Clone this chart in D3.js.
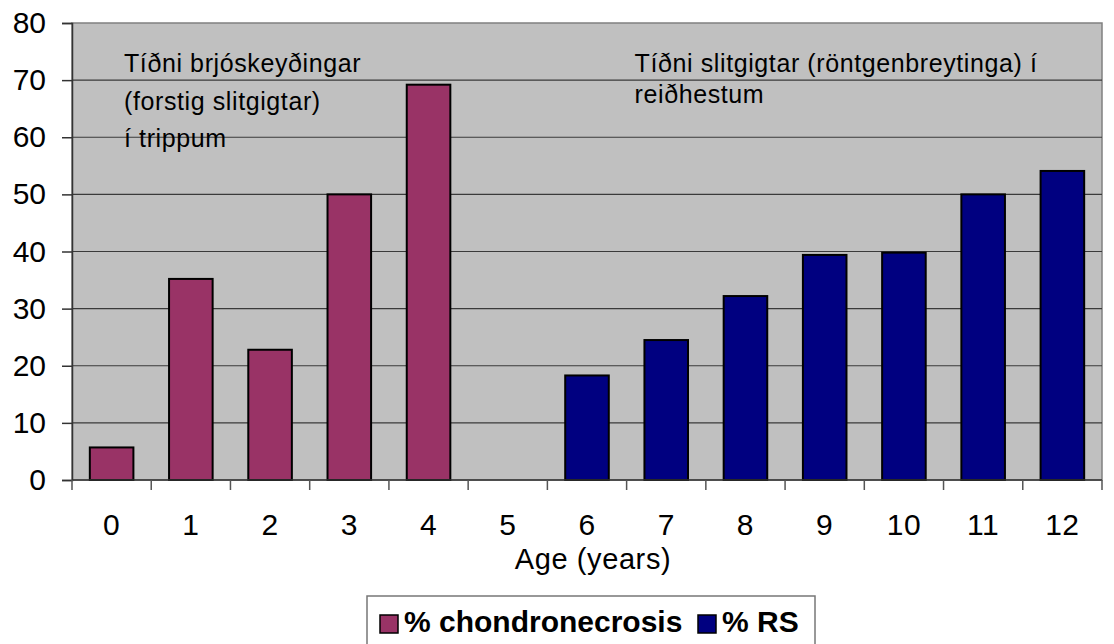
<!DOCTYPE html>
<html>
<head>
<meta charset="utf-8">
<script src="https://cdn.jsdelivr.net/npm/d3@7"></script>
<style>
  body { margin: 0; background: #fff; }
  text { font-family: Arial, "Liberation Sans", sans-serif; }
</style>
</head>
<body>
<div id="chart"></div>
<script>
// data
const ages = ['0', '1', '2', '3', '4', '5', '6', '7', '8', '9', '10', '11', '12'];
const chondronecrosis = [5.7, 35.2, 22.8, 50, 69.2, null, null, null, null, null, null, null, null];
const rs = [null, null, null, null, null, null, 18.3, 24.5, 32.2, 39.4, 39.8, 50, 54.1];
const yTicks = [0, 10, 20, 30, 40, 50, 60, 70, 80];
const seriesNames = ['% chondronecrosis', '% RS'];
const seriesColors = ['#993366', '#000080'];
const leftNote = ['Tíðni brjóskeyðingar', '(forstig slitgigtar)', 'í trippum'];
const rightNote = ['Tíðni slitgigtar (röntgenbreytinga) í', 'reiðhestum'];

const width = 1114, height = 644;
const margin = {top: 23, right: 12, bottom: 164, left: 72};
const w = width - margin.left - margin.right;
const h = height - margin.top - margin.bottom;

const svg = d3.select('#chart').append('svg')
    .attr('width', width)
    .attr('height', height);

const chart = svg.append('g')
    .attr('transform', `translate(${margin.left},${margin.top})`);

const xScale = d3.scaleBand().domain(ages).range([0, w]).paddingInner(0.45).paddingOuter(0.225);
const xBand = d3.scaleBand().domain(ages).range([0, w]);
const yScale = d3.scaleLinear().domain([0, 80]).range([h, 0]);

// plot background
chart.append('rect')
    .attr('width', w)
    .attr('height', h)
    .attr('fill', '#c0c0c0')
    .attr('stroke', '#808080')
    .attr('stroke-width', 1.5);

// gridlines
chart.append('g')
    .selectAll('line')
    .data(yTicks.filter(d => d > 0 && d < 80))
  .join('line')
    .attr('x1', 0).attr('x2', w)
    .attr('y1', d => yScale(d)).attr('y2', d => yScale(d))
    .attr('stroke', '#3a3a3a')
    .attr('stroke-width', 1.2);

// annotations
const noteStyle = sel => sel.attr('font-size', 25).attr('letter-spacing', 0.6).attr('fill', '#000');
chart.append('text').call(noteStyle)
    .selectAll('tspan').data(leftNote).join('tspan')
    .attr('x', xBand('0') + 52)
    .attr('y', (d, i) => 49 + i * 37.5)
    .text(d => d);
chart.append('text').call(noteStyle)
    .selectAll('tspan').data(rightNote).join('tspan')
    .attr('x', xBand('7') + 8)
    .attr('y', (d, i) => 49 + i * 31)
    .text(d => d);

// bars
[chondronecrosis, rs].forEach((vals, s) => {
  chart.append('g')
      .selectAll('rect')
      .data(ages.map((a, i) => ({age: a, v: vals[i]})).filter(d => d.v != null))
    .join('rect')
      .attr('x', d => xScale(d.age))
      .attr('y', d => yScale(d.v))
      .attr('width', xScale.bandwidth())
      .attr('height', d => h - yScale(d.v))
      .attr('fill', seriesColors[s])
      .attr('stroke', '#000')
      .attr('stroke-width', 2);
});

// axes
const yAxis = d3.axisLeft(yScale).tickValues(yTicks).tickSize(10).tickPadding(16);
chart.append('g')
    .call(yAxis)
    .call(g => g.select('.domain').attr('stroke', '#333').attr('stroke-width', 1.5))
    .call(g => g.selectAll('.tick line').attr('stroke', '#333').attr('stroke-width', 1.5))
    .call(g => g.selectAll('.tick text').attr('font-size', 30).attr('fill', '#000')
        .attr('font-family', 'Arial, "Liberation Sans", sans-serif'));

const xAxisG = chart.append('g').attr('transform', `translate(0,${h})`);
xAxisG.append('line')
    .attr('x1', 0).attr('x2', w)
    .attr('stroke', '#333').attr('stroke-width', 1.5);
xAxisG.selectAll('.tk')
    .data(ages.concat(['end']))
  .join('line')
    .attr('x1', d => d === 'end' ? w : xBand(d))
    .attr('x2', d => d === 'end' ? w : xBand(d))
    .attr('y1', 0).attr('y2', 10)
    .attr('stroke', '#555').attr('stroke-width', 1.5);
xAxisG.selectAll('.lbl')
    .data(ages)
  .join('text')
    .attr('x', d => xBand(d) + xBand.bandwidth() / 2)
    .attr('y', 55)
    .attr('text-anchor', 'middle')
    .attr('font-size', 30)
    .attr('letter-spacing', 0.5)
    .text(d => d);

svg.append('text')
    .attr('x', 593)
    .attr('y', 569)
    .attr('text-anchor', 'middle')
    .attr('font-size', 29)
    .attr('letter-spacing', 0.6)
    .text('Age (years)');

// legend
const legend = svg.append('g');
legend.append('rect')
    .attr('x', 367).attr('y', 596)
    .attr('width', 448).attr('height', 60)
    .attr('fill', '#fff')
    .attr('stroke', '#777')
    .attr('stroke-width', 1.5);
const legendX = [380, 698];
seriesNames.forEach((name, i) => {
  legend.append('rect')
      .attr('x', legendX[i]).attr('y', 615)
      .attr('width', 18).attr('height', 18)
      .attr('fill', seriesColors[i])
      .attr('stroke', '#000')
      .attr('stroke-width', 1.5);
  legend.append('text')
      .attr('x', legendX[i] + 24).attr('y', 632)
      .attr('font-size', 30)
      .attr('font-weight', 'bold')
      .text(name);
});
</script>
</body>
</html>
